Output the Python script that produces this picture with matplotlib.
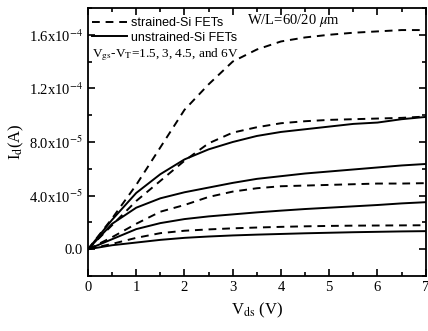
import matplotlib
matplotlib.use("Agg")
import matplotlib.pyplot as plt
import numpy as np
from matplotlib.ticker import MultipleLocator, FixedLocator

# drain voltage (V)
v_ds = [0, 0.5, 1, 1.5, 2, 2.5, 3, 3.5, 4, 4.5, 5, 5.5, 6, 6.5, 7]

# strained-Si FETs, drain current in units of 1e-5 A
strained = [
    [0, 0.4, 0.85, 1.2, 1.38, 1.48, 1.56, 1.62, 1.67, 1.71, 1.74, 1.76, 1.77, 1.78, 1.79],
    [0, 0.9, 1.9, 2.8, 3.3, 3.9, 4.3, 4.55, 4.7, 4.75, 4.8, 4.85, 4.9, 4.9, 4.93],
    [0, 1.8, 3.6, 5.1, 6.6, 7.9, 8.7, 9.1, 9.4, 9.55, 9.65, 9.7, 9.75, 9.8, 9.9],
    [0, 2.3, 4.8, 7.6, 10.4, 12.3, 14.0, 14.9, 15.5, 15.8, 16.0, 16.15, 16.25, 16.35, 16.35],
]

# unstrained-Si FETs, drain current in units of 1e-5 A
unstrained = [
    [0, 0.3, 0.5, 0.7, 0.85, 0.95, 1.03, 1.09, 1.14, 1.19, 1.23, 1.27, 1.3, 1.33, 1.35],
    [0, 0.75, 1.5, 1.95, 2.25, 2.45, 2.6, 2.75, 2.88, 3.0, 3.1, 3.2, 3.3, 3.42, 3.51],
    [0, 1.9, 3.1, 3.8, 4.25, 4.6, 4.95, 5.25, 5.45, 5.65, 5.8, 5.95, 6.1, 6.25, 6.36],
    [0, 2.2, 4.2, 5.6, 6.7, 7.45, 8.0, 8.45, 8.75, 8.95, 9.15, 9.35, 9.45, 9.7, 9.87],
]

y_ticks = [0, 4e-5, 8e-5, 1.2e-4, 1.6e-4]
y_tick_labels = ["0.0", r"4.0x10$^{-5}$", r"8.0x10$^{-5}$", r"1.2x10$^{-4}$", r"1.6x10$^{-4}$"]
x_ticks = [0, 1, 2, 3, 4, 5, 6, 7]

plt.rcParams["mathtext.fontset"] = "stix"
serif = "Liberation Serif"
sans = "Liberation Sans"

fig = plt.figure(figsize=(4.28, 3.31), dpi=100)
ax = fig.add_axes([0.2056, 0.166, 0.789, 0.81])

v = np.array(v_ds)
for i, curve in enumerate(strained):
    ax.plot(v, np.array(curve) * 1e-5, color="black", linewidth=1.4,
            linestyle=(0, (4, 3)), label="strained-Si FETs" if i == 0 else None)
for i, curve in enumerate(unstrained):
    ax.plot(v, np.array(curve) * 1e-5, color="black", linewidth=1.4,
            linestyle="-", label="unstrained-Si FETs" if i == 0 else None)

ax.set_xlim(0, 7)
ax.set_ylim(-2e-5, 1.8e-4)
ax.xaxis.set_major_locator(FixedLocator(x_ticks))
ax.xaxis.set_minor_locator(MultipleLocator(0.5))
ax.yaxis.set_major_locator(FixedLocator(y_ticks))
ax.yaxis.set_minor_locator(MultipleLocator(2e-5))
ax.set_yticklabels(y_tick_labels, fontfamily=serif, fontsize=10.5)
ax.set_xticklabels([str(t) for t in x_ticks], fontfamily=serif, fontsize=10.5)
ax.tick_params(which="both", direction="in", top=True, right=True, width=1.2)
ax.tick_params(which="major", length=5)
ax.tick_params(which="minor", length=3)
for s in ax.spines.values():
    s.set_linewidth(1.3)

ax.set_xlabel(r"V$_{\mathrm{ds}}$ (V)", fontfamily=serif, fontsize=12, labelpad=5)
ax.set_ylabel(r"I$_{\mathrm{d}}$(A)", fontfamily=serif, fontsize=12)
ax.yaxis.set_label_coords(-0.185, 0.5)

ax.legend(loc="upper left", bbox_to_anchor=(0.005, 0.975), frameon=False,
          prop={"family": sans, "size": 9},
          handlelength=2.8, handletextpad=0.3, labelspacing=0.2,
          borderaxespad=0.0, borderpad=0.2)

ax.text(0.47, 0.952, r"W/L=60/20 $\mu$m", transform=ax.transAxes,
        fontfamily=serif, fontsize=10.5, va="center")
ax.text(0.012, 0.825, r"V$_{\mathrm{gs}}$-V$_{\mathrm{T}}$=1.5, 3, 4.5, and 6V",
        transform=ax.transAxes, fontfamily=serif, fontsize=9.5, va="center")

fig.savefig("out.png", dpi=100)
